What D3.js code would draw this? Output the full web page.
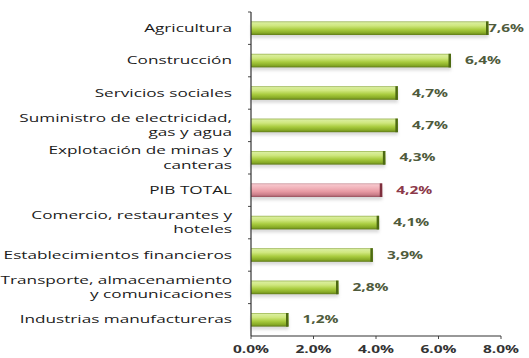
<!DOCTYPE html>
<html>
<head>
<meta charset="utf-8">
<script src="https://cdn.jsdelivr.net/npm/d3@7"></script>
<style>
  html, body { margin: 0; padding: 0; background: #fff; }
  svg { display: block; }
  text { font-family: "Open Sans", "DejaVu Sans", sans-serif; }
</style>
</head>
<body>
<svg id="chart" width="529" height="358"></svg>
<script>
// Growth by economic sector (%)
const categories = [
  "Agricultura",
  "Construcción",
  "Servicios sociales",
  "Suministro de electricidad, gas y agua",
  "Explotación de minas y canteras",
  "PIB TOTAL",
  "Comercio, restaurantes y hoteles",
  "Establecimientos financieros",
  "Transporte, almacenamiento y comunicaciones",
  "Industrias manufactureras"
];
const labelLines = [
  ["Agricultura"],
  ["Construcción"],
  ["Servicios sociales"],
  ["Suministro de electricidad,", "gas y agua"],
  ["Explotación de minas y", "canteras"],
  ["PIB TOTAL"],
  ["Comercio, restaurantes y", "hoteles"],
  ["Establecimientos financieros"],
  ["Transporte, almacenamiento", "y comunicaciones"],
  ["Industrias manufactureras"]
];
const values = [7.6, 6.4, 4.7, 4.7, 4.3, 4.2, 4.1, 3.9, 2.8, 1.2];
const highlight = "PIB TOTAL";
const xTicks = [0, 2, 4, 6, 8];

const svg = d3.select("#chart");
const plot = { left: 251, right: 501, top: 12, bottom: 336 };
const sxCat = 1.72; // horizontal stretch of category labels
const sxNum = 1.55; // horizontal stretch of numeric labels

const x = d3.scaleLinear().domain([0, 8]).range([plot.left, plot.right]);
const y = d3.scaleBand().domain(categories).range([plot.top, plot.bottom])
  .paddingInner(0.58).paddingOuter(0.29);

const fmt = v => d3.format(".1f")(v).replace(".", ",") + "%";
const fmtTick = v => d3.format(".1f")(v) + "%";

// gradients
const defs = svg.append("defs");
function cylGrad(id, stops) {
  const g = defs.append("linearGradient").attr("id", id)
    .attr("x1", 0).attr("y1", 0).attr("x2", 0).attr("y2", 1);
  stops.forEach(([o, c]) => g.append("stop").attr("offset", o).attr("stop-color", c));
}
cylGrad("gGreen", [[0, "#93ad4a"], [0.1, "#d9ee9c"], [0.32, "#cfe77e"], [0.6, "#a9cc3f"], [0.85, "#87aa26"], [1, "#5f7a18"]]);
cylGrad("gPink", [[0, "#c48c94"], [0.1, "#f6c6cc"], [0.32, "#f1b4bb"], [0.6, "#e79aa3"], [0.85, "#c97d88"], [1, "#94505c"]]);
const shadow = defs.append("filter").attr("id", "shadow")
  .attr("x", "-5%").attr("y", "-30%").attr("width", "115%").attr("height", "190%");
shadow.append("feGaussianBlur").attr("stdDeviation", 1.6);

const bars = svg.append("g");
categories.forEach((c, i) => {
  const v = values[i];
  const hi = c === highlight;
  const y0 = y(c), bh = y.bandwidth();
  const x0 = x(0), x1 = x(v);
  // soft shadow below bar
  bars.append("rect")
    .attr("x", x0).attr("y", y0 + 3).attr("width", x1 - x0).attr("height", bh)
    .attr("fill", "#bbb").attr("opacity", 0.55).attr("filter", "url(#shadow)");
  bars.append("rect")
    .attr("x", x0).attr("y", y0).attr("width", x1 - x0).attr("height", bh)
    .attr("fill", hi ? "url(#gPink)" : "url(#gGreen)");
  // end cap
  bars.append("rect")
    .attr("x", x1 - 2.5).attr("y", y0).attr("width", 2.5).attr("height", bh)
    .attr("fill", hi ? "#7e2f3d" : "#4d6a12");
});

// axes
const axis = svg.append("g").attr("stroke", "#333").attr("stroke-width", 1.2);
axis.append("line").attr("x1", plot.left).attr("x2", plot.left)
  .attr("y1", plot.top).attr("y2", plot.bottom);
axis.append("line").attr("x1", plot.left).attr("x2", plot.right)
  .attr("y1", plot.bottom).attr("y2", plot.bottom);
// category tick marks at band boundaries
categories.forEach(c => {
  const yy = y(c) - y.step() * y.paddingInner() / 2;
  axis.append("line").attr("x1", plot.left - 3).attr("x2", plot.left)
    .attr("y1", yy).attr("y2", yy).attr("stroke-width", 0.9);
});
xTicks.forEach(t => {
  axis.append("line").attr("x1", x(t)).attr("x2", x(t))
    .attr("y1", plot.bottom).attr("y2", plot.bottom + 3).attr("stroke-width", 0.9);
});

function stretchedText(g, tx, ty, str, anchor, sx) {
  return g.append("text")
    .attr("transform", `translate(${tx},${ty}) scale(${sx},1)`)
    .attr("text-anchor", anchor)
    .text(str);
}

// x tick labels
const tl = svg.append("g").attr("font-size", 10).attr("font-weight", "bold").attr("fill", "#333");
xTicks.forEach(t => stretchedText(tl, x(t), 352.5, fmtTick(t), "middle", sxNum));

// category labels
const cl = svg.append("g").attr("font-size", 10).attr("fill", "#1a1a1a");
categories.forEach((c, i) => {
  const lines = labelLines[i];
  const cy = y(c) + y.bandwidth() / 2;
  const lh = 14.5;
  lines.forEach((ln, j) => {
    const ly = cy + (j - (lines.length - 1) / 2) * lh + 3.5;
    stretchedText(cl, 232, ly, ln, "end", sxCat);
  });
});

// value labels
const vl = svg.append("g").attr("font-size", 10).attr("font-weight", "bold");
categories.forEach((c, i) => {
  const v = values[i];
  const cy = y(c) + y.bandwidth() / 2;
  const lx = Math.min(x(v) + 14, 488);
  stretchedText(vl, lx, cy + 3.6, fmt(v), "start", sxNum)
    .attr("fill", c === highlight ? "#8c3a4a" : "#4f5b3c");
});
</script>
</body>
</html>
